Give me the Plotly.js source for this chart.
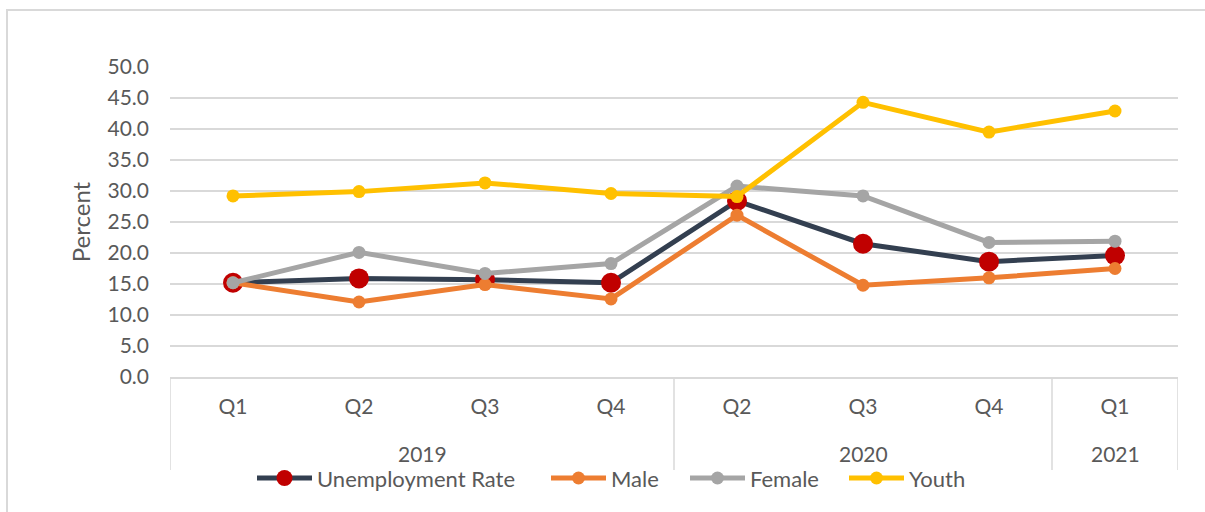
<!DOCTYPE html>
<html>
<head>
<meta charset="utf-8">
<script src="https://cdn.plot.ly/plotly-3.0.1.min.js"></script>
<style>
  html, body { margin: 0; padding: 0; background: #fff; }
  #frame { position: absolute; left: 6px; top: 9px; width: 1300px; height: 600px;
           border-left: 2px solid #d9d9d9; border-top: 2px solid #d9d9d9; pointer-events: none; }
  #chart { position: absolute; left: 0; top: 0; width: 1205px; height: 512px; }
</style>
</head>
<body>
<div id="chart"></div>
<div id="frame"></div>
<script>
const years    = ["2019", "2019", "2019", "2019", "2020", "2020", "2020", "2021"];
const quarters = ["Q1", "Q2", "Q3", "Q4", "Q2", "Q3", "Q4", "Q1"];

const seriesNames  = ["Unemployment Rate", "Male", "Female", "Youth"];
const unemployment = [15.2, 15.9, 15.7, 15.2, 28.4, 21.5, 18.6, 19.6];
const male         = [15.2, 12.1, 14.9, 12.6, 26.1, 14.8, 16.0, 17.5];
const female       = [15.2, 20.1, 16.7, 18.3, 30.8, 29.2, 21.7, 21.9];
const youth        = [29.2, 29.9, 31.3, 29.6, 29.1, 44.3, 39.5, 42.9];

const FONT = "Lato, 'Open Sans', sans-serif";
const TXT = "#595959";
const GRID = "#d9d9d9";

// unique category keys for each (year, quarter) pair
const cats = years.map((y, i) => y + " " + quarters[i]);

// year groups: first/last index of each year
const groups = [];
years.forEach((y, i) => {
  const g = groups[groups.length - 1];
  if (g && g.year === y) g.last = i; else groups.push({ year: y, first: i, last: i });
});

const styles = [
  { line: { color: "#333F50", width: 5 }, marker: { color: "#C00000", size: 20 } },
  { line: { color: "#ED7D31", width: 5 }, marker: { color: "#ED7D31", size: 13 } },
  { line: { color: "#A5A5A5", width: 5 }, marker: { color: "#A5A5A5", size: 13 } },
  { line: { color: "#FFC000", width: 5 }, marker: { color: "#FFC000", size: 13 } }
];
const values = [unemployment, male, female, youth];
const legendIds = ["legend", "legend2", "legend3", "legend4"];

const traces = values.map((v, k) => Object.assign({
  type: "scatter", mode: "lines+markers", name: seriesNames[k],
  x: cats, y: v, legend: legendIds[k]
}, styles[k]));

// legend entry left edges (px in the page)
const legendLeft = [252, 546, 685, 844];
const legendCommon = {
  orientation: "h", xref: "container", yref: "container",
  xanchor: "left", y: 0.066, yanchor: "middle",
  font: { family: FONT, color: TXT, size: 22 },
  itemwidth: 55, bgcolor: "rgba(0,0,0,0)"
};

const AXIS_DEPTH = 93;   // px below the plot area that the dividers reach
const PLOT_H = 512 - 67 - 135;

const shapes = [];
const bounds = [groups[0].first - 0.5].concat(groups.map(g => g.last + 0.5));
bounds.forEach(b => shapes.push({
  type: "line", xref: "x", yref: "paper", x0: b, x1: b, y0: 0, y1: -AXIS_DEPTH / PLOT_H,
  line: { color: GRID, width: 1.5 }
}));

const annotations = groups.map(g => ({
  xref: "x", yref: "paper", x: (g.first + g.last) / 2, y: -76 / PLOT_H,
  yanchor: "middle", xanchor: "center", showarrow: false, text: g.year,
  font: { family: FONT, color: TXT, size: 21 }
}));

const layout = {
  width: 1205, height: 512,
  margin: { l: 170, r: 27, t: 67, b: 135 },
  paper_bgcolor: "#ffffff", plot_bgcolor: "#ffffff",
  font: { family: FONT, color: TXT, size: 21 },
  showlegend: true,
  xaxis: {
    type: "category", range: [-0.5, cats.length - 0.5],
    tickmode: "array", tickvals: cats, ticktext: quarters,
    showgrid: false, zeroline: false,
    showline: true, linecolor: GRID, linewidth: 1.5,
    ticks: "",
    tickfont: { family: FONT, color: TXT, size: 21 },
    ticklabelstandoff: 10,
    fixedrange: true
  },
  yaxis: {
    range: [0, 50], dtick: 5, tick0: 0, tickformat: ".1f",
    showgrid: true, gridcolor: GRID, gridwidth: 1.5,
    zeroline: false, showline: false, ticks: "",
    ticklabelstandoff: 20,
    tickfont: { family: FONT, color: TXT, size: 21 },
    title: { text: "Percent", font: { family: FONT, color: TXT, size: 24 }, standoff: 10 },
    fixedrange: true
  },
  shapes: shapes,
  annotations: annotations
};
legendIds.forEach((id, k) => {
  layout[id] = Object.assign({}, legendCommon, { x: legendLeft[k] / 1205 });
});

Plotly.newPlot("chart", traces, layout, { displayModeBar: false, staticPlot: true });
</script>
</body>
</html>
